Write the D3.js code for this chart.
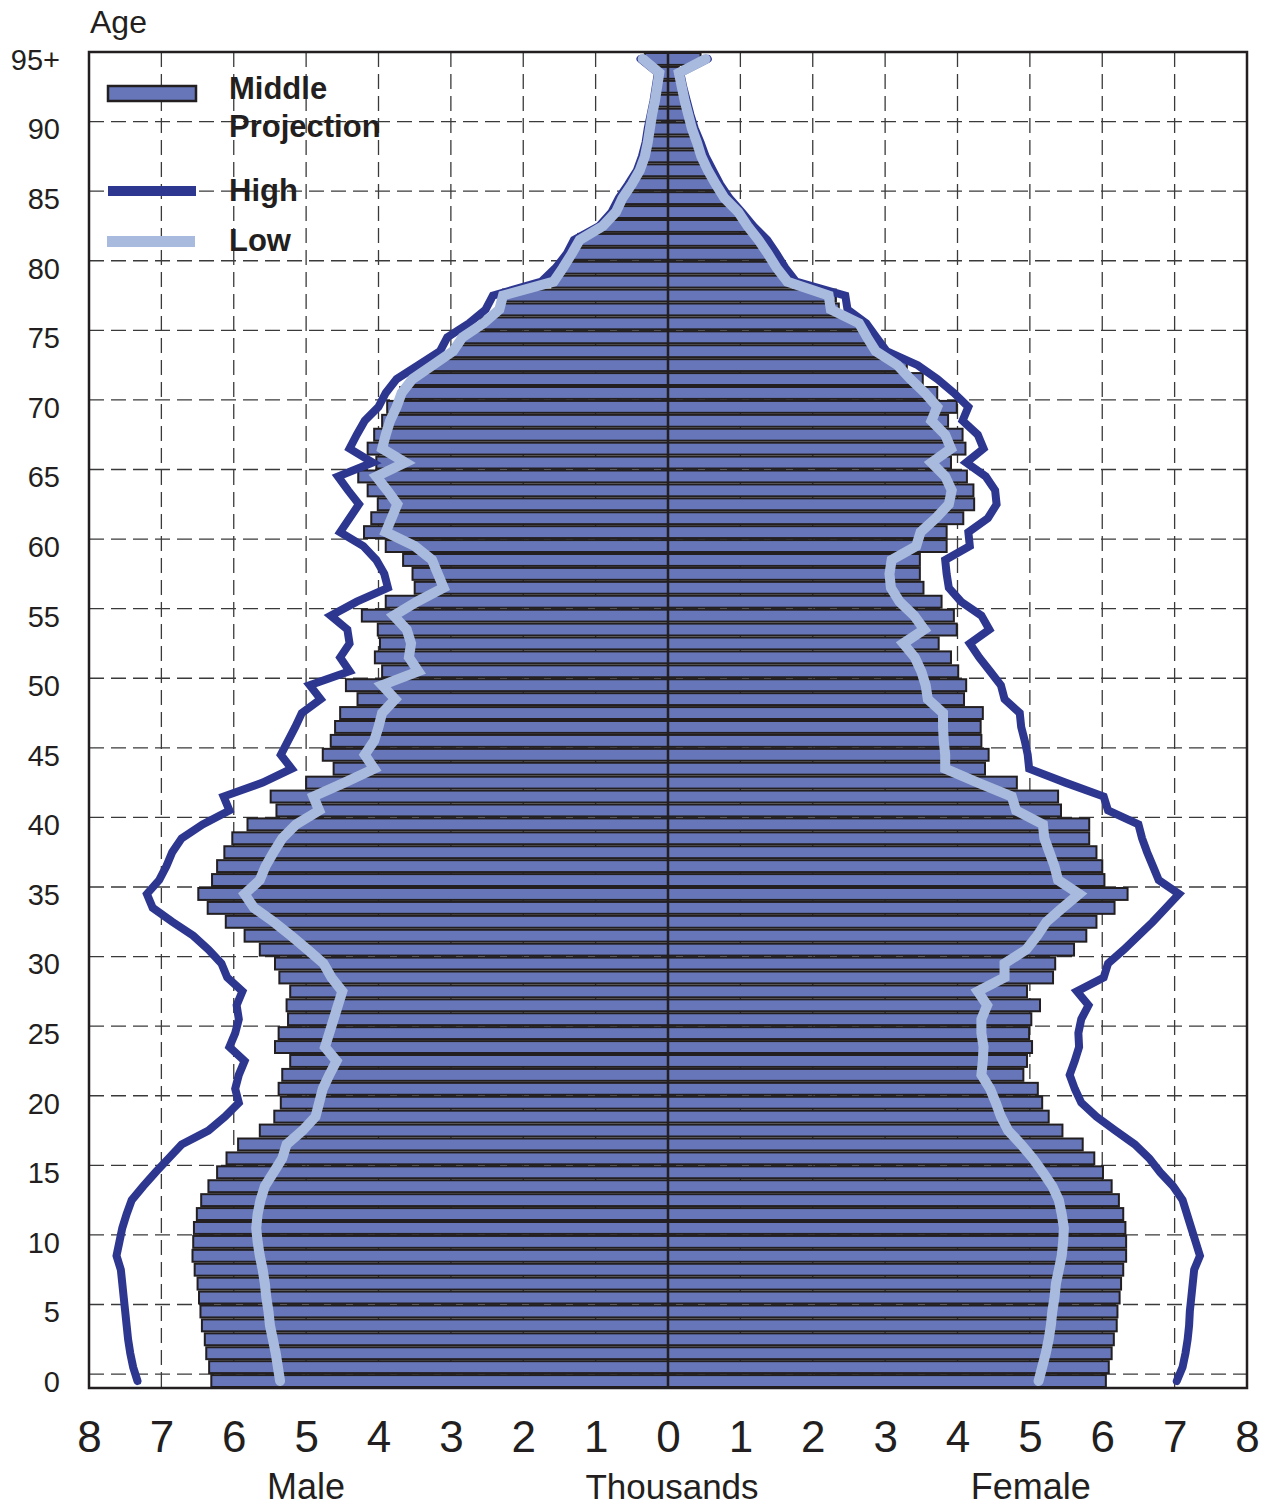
<!DOCTYPE html>
<html><head><meta charset="utf-8">
<script src="https://cdn.jsdelivr.net/npm/d3@7"></script>
<style>
body{margin:0;background:#fff}
svg{display:block;font-family:"Liberation Sans",Arial,Helvetica,sans-serif}
</style>
</head><body>
<svg id="chart" width="1266" height="1507"></svg>
<script>
// ---------------- DATA (thousands, ages 0..95+) ----------------
const ages = d3.range(0, 96);
const ageTicks = [0,5,10,15,20,25,30,35,40,45,50,55,60,65,70,75,80,85,90,95];
const ageTickLabels = ["0","5","10","15","20","25","30","35","40","45","50","55","60","65","70","75","80","85","90","95+"];
const xTicks = [-8,-7,-6,-5,-4,-3,-2,-1,0,1,2,3,4,5,6,7,8];
const xTickLabels = ["8","7","6","5","4","3","2","1","0","1","2","3","4","5","6","7","8"];
const seriesNames = ["Middle Projection","High","Low"];

const maleMiddle = [6.31,6.34,6.38,6.40,6.44,6.46,6.48,6.50,6.54,6.57,
  6.56,6.55,6.51,6.45,6.35,6.23,6.10,5.94,5.64,5.44,
  5.35,5.38,5.33,5.22,5.43,5.38,5.25,5.27,5.22,5.37,
  5.43,5.64,5.85,6.11,6.36,6.49,6.30,6.23,6.13,6.02,
  5.81,5.41,5.49,5.00,4.62,4.77,4.66,4.60,4.53,4.29,
  4.45,3.95,4.05,3.98,4.01,4.23,3.90,3.50,3.53,3.66,
  3.90,4.20,4.10,4.01,4.15,4.28,4.03,4.15,4.06,3.95,
  3.88,3.70,3.57,3.30,2.98,2.88,2.58,2.33,2.28,1.60,
  1.47,1.35,1.24,0.91,0.74,0.63,0.50,0.40,0.33,0.29,
  0.25,0.22,0.18,0.15,0.12,0.32];
const maleHigh = [7.33,7.39,7.43,7.46,7.48,7.50,7.52,7.54,7.56,7.62,
  7.58,7.54,7.48,7.41,7.25,7.08,6.90,6.72,6.35,6.12,
  5.93,5.98,5.93,5.85,6.06,5.98,5.93,5.96,5.88,6.09,
  6.17,6.35,6.56,6.85,7.12,7.20,7.03,6.93,6.85,6.72,
  6.43,6.06,6.14,5.60,5.20,5.35,5.25,5.15,5.06,4.80,
  4.95,4.40,4.53,4.40,4.43,4.66,4.30,3.87,3.92,4.03,
  4.21,4.53,4.40,4.27,4.42,4.56,4.08,4.40,4.30,4.19,
  4.00,3.90,3.75,3.45,3.15,3.05,2.75,2.52,2.42,1.75,
  1.55,1.40,1.30,0.95,0.78,0.68,0.55,0.43,0.36,0.31,
  0.28,0.24,0.20,0.17,0.14,0.38];
const maleLow = [5.36,5.39,5.42,5.46,5.50,5.52,5.55,5.57,5.60,5.64,
  5.67,5.69,5.67,5.63,5.57,5.45,5.33,5.27,5.05,4.87,
  4.82,4.77,4.68,4.58,4.74,4.68,4.62,4.56,4.50,4.65,
  4.76,4.98,5.21,5.45,5.72,5.85,5.64,5.56,5.45,5.33,
  5.14,4.82,4.90,4.47,4.06,4.19,4.06,4.00,3.95,3.77,
  3.95,3.45,3.58,3.55,3.61,3.79,3.47,3.10,3.18,3.26,
  3.50,3.90,3.82,3.74,3.88,4.03,3.63,3.95,3.90,3.84,
  3.75,3.68,3.53,3.25,2.97,2.84,2.55,2.33,2.28,1.58,
  1.45,1.33,1.22,0.90,0.72,0.63,0.50,0.39,0.32,0.28,
  0.25,0.22,0.18,0.15,0.12,0.35];
const femaleMiddle = [6.05,6.09,6.13,6.16,6.20,6.21,6.24,6.26,6.29,6.33,
  6.33,6.32,6.29,6.23,6.13,6.01,5.89,5.73,5.45,5.26,
  5.17,5.11,4.91,4.96,5.03,4.99,5.02,5.14,4.96,5.32,
  5.35,5.61,5.78,5.92,6.17,6.35,6.03,6.00,5.92,5.82,
  5.82,5.43,5.39,4.82,4.38,4.43,4.33,4.32,4.35,4.09,
  4.12,4.01,3.91,3.74,3.99,3.95,3.78,3.53,3.48,3.48,
  3.85,3.85,4.08,4.23,4.22,4.13,3.91,4.11,4.07,3.87,
  3.99,3.72,3.52,3.30,2.95,2.80,2.68,2.36,2.32,1.70,
  1.55,1.43,1.30,1.13,0.98,0.80,0.68,0.57,0.48,0.42,
  0.34,0.29,0.24,0.19,0.15,0.45];
const femaleHigh = [7.03,7.11,7.15,7.18,7.20,7.21,7.23,7.25,7.27,7.35,
  7.29,7.23,7.17,7.11,6.98,6.80,6.65,6.45,6.18,5.92,
  5.71,5.62,5.55,5.62,5.68,5.67,5.71,5.81,5.65,6.02,
  6.08,6.30,6.50,6.70,6.88,7.06,6.78,6.70,6.62,6.55,
  6.50,6.08,6.02,5.49,4.99,4.97,4.93,4.88,4.86,4.65,
  4.60,4.45,4.30,4.17,4.44,4.33,4.05,3.88,3.85,3.83,
  4.17,4.15,4.42,4.54,4.52,4.39,4.12,4.36,4.28,4.07,
  4.15,3.95,3.72,3.45,3.02,2.88,2.74,2.48,2.45,1.77,
  1.62,1.50,1.37,1.18,1.02,0.85,0.72,0.62,0.52,0.45,
  0.37,0.31,0.26,0.21,0.17,0.55];
const femaleLow = [5.12,5.17,5.22,5.26,5.29,5.31,5.34,5.36,5.40,5.44,
  5.46,5.47,5.44,5.40,5.31,5.18,5.04,4.88,4.70,4.60,
  4.53,4.45,4.33,4.35,4.36,4.33,4.33,4.41,4.28,4.65,
  4.65,4.95,5.10,5.23,5.45,5.68,5.39,5.34,5.27,5.20,
  5.18,4.81,4.75,4.28,3.83,3.83,3.81,3.80,3.80,3.59,
  3.56,3.50,3.41,3.25,3.54,3.40,3.20,3.08,3.06,3.09,
  3.43,3.49,3.70,3.88,3.92,3.83,3.64,3.91,3.83,3.64,
  3.72,3.55,3.35,3.17,2.87,2.75,2.64,2.25,2.22,1.65,
  1.50,1.38,1.25,1.10,0.97,0.78,0.66,0.55,0.46,0.40,
  0.33,0.28,0.23,0.19,0.15,0.52];

// ---------------- STYLE ----------------
const C = {bar:"#6676b8", barStroke:"#231f20", high:"#2e3790", low:"#a9badf", ink:"#231f20", grid:"#3a3a3a"};

const svg = d3.select("#chart");
const L = 89, R = 1247, T = 52, B = 1388;
const x = d3.scaleLinear().domain([-8, 8]).range([L, R]);
const y = d3.scaleLinear().domain([-0.5, 95.5]).range([B, T]);
const bandH = Math.abs(y(0) - y(1));

// grid
const g = svg.append("g");
g.selectAll("line.vg").data(xTicks.filter(d => Math.abs(d) !== 8 && d !== 0)).join("line")
  .attr("x1", d => x(d)).attr("x2", d => x(d)).attr("y1", T).attr("y2", B)
  .attr("stroke", C.grid).attr("stroke-width", 1.3).attr("stroke-dasharray", "15,7");
g.selectAll("line.hg").data(ageTicks.filter(d => d < 95)).join("line")
  .attr("x1", L).attr("x2", R).attr("y1", d => y(d + 0.5)).attr("y2", d => y(d + 0.5))
  .attr("stroke", C.grid).attr("stroke-width", 1.3).attr("stroke-dasharray", "15,7");

// bars
const bars = svg.append("g");
bars.selectAll("rect.m").data(ages).join("rect")
  .attr("x", a => x(-maleMiddle[a])).attr("width", a => x(0) - x(-maleMiddle[a]))
  .attr("y", a => y(a + 0.5) + 1).attr("height", bandH - 2)
  .attr("fill", C.bar).attr("stroke", C.barStroke).attr("stroke-width", 2);
bars.selectAll("rect.f").data(ages).join("rect")
  .attr("x", x(0)).attr("width", a => x(femaleMiddle[a]) - x(0))
  .attr("y", a => y(a + 0.5) + 1).attr("height", bandH - 2)
  .attr("fill", C.bar).attr("stroke", C.barStroke).attr("stroke-width", 2);

// centre line
svg.append("line").attr("x1", x(0)).attr("x2", x(0)).attr("y1", T).attr("y2", B)
  .attr("stroke", C.ink).attr("stroke-width", 2.5);

// lines
const lineM = arr => d3.line().x(a => x(-arr[a])).y(a => y(a))(ages);
const lineF = arr => d3.line().x(a => x(arr[a])).y(a => y(a))(ages);
const lg = svg.append("g").attr("fill", "none").attr("stroke-linecap", "round").attr("stroke-linejoin", "miter").attr("stroke-miterlimit", 3);
lg.append("path").attr("d", lineM(maleHigh)).attr("stroke", C.high).attr("stroke-width", 8);
lg.append("path").attr("d", lineF(femaleHigh)).attr("stroke", C.high).attr("stroke-width", 8);
lg.append("path").attr("d", lineM(maleLow)).attr("stroke", C.low).attr("stroke-width", 10);
lg.append("path").attr("d", lineF(femaleLow)).attr("stroke", C.low).attr("stroke-width", 10);

// frame
svg.append("rect").attr("x", L).attr("y", T).attr("width", R - L).attr("height", B - T)
  .attr("fill", "none").attr("stroke", C.ink).attr("stroke-width", 2.5);

// y axis
const yAxis = d3.axisLeft(y).tickValues(ageTicks).tickSize(0).tickPadding(0)
  .tickFormat((d, i) => ageTickLabels[i]);
const ya = svg.append("g").attr("transform", `translate(${L - 29},0)`).call(yAxis);
ya.select(".domain").remove();
ya.selectAll("text").attr("font-size", 29).attr("fill", C.ink)
  .attr("font-family", '"Liberation Sans",Arial,sans-serif').attr("dy", "0.36em");

// x axis
const xAxis = d3.axisBottom(x).tickValues(xTicks).tickSize(0).tickPadding(0)
  .tickFormat((d, i) => xTickLabels[i]);
const xa = svg.append("g").attr("transform", `translate(0,1421)`).call(xAxis);
xa.select(".domain").remove();
xa.selectAll("text").attr("font-size", 44).attr("fill", C.ink)
  .attr("font-family", '"Liberation Sans",Arial,sans-serif').attr("dy", "0.71em");

// axis titles
const titleFont = 35;
svg.append("text").attr("x", L + 1).attr("y", 33).attr("font-size", 32).attr("fill", C.ink).text("Age");
svg.append("text").attr("x", x(-5)).attr("y", 1499).attr("text-anchor", "middle").attr("font-size", 36).attr("fill", C.ink).text("Male");
svg.append("text").attr("x", x(0) + 4).attr("y", 1499).attr("text-anchor", "middle").attr("font-size", titleFont).attr("fill", C.ink).text("Thousands");
svg.append("text").attr("x", x(5) + 1).attr("y", 1499).attr("text-anchor", "middle").attr("font-size", 36).attr("fill", C.ink).text("Female");

// legend
const leg = svg.append("g");
leg.append("rect").attr("x", 108).attr("y", 86).attr("width", 88).attr("height", 15)
  .attr("fill", C.bar).attr("stroke", C.barStroke).attr("stroke-width", 2.5);
leg.append("rect").attr("x", 108).attr("y", 186).attr("width", 88).attr("height", 10).attr("fill", C.high);
leg.append("rect").attr("x", 107).attr("y", 236).attr("width", 88).attr("height", 11).attr("fill", C.low);
const lt = leg.append("g").attr("font-size", 31).attr("font-weight", "bold").attr("fill", C.ink);
lt.append("text").attr("x", 229).attr("y", 99).text("Middle");
lt.append("text").attr("x", 229).attr("y", 137).text("Projection");
lt.append("text").attr("x", 229).attr("y", 201).text(seriesNames[1]);
lt.append("text").attr("x", 229).attr("y", 251).text(seriesNames[2]);
</script>
</body></html>
